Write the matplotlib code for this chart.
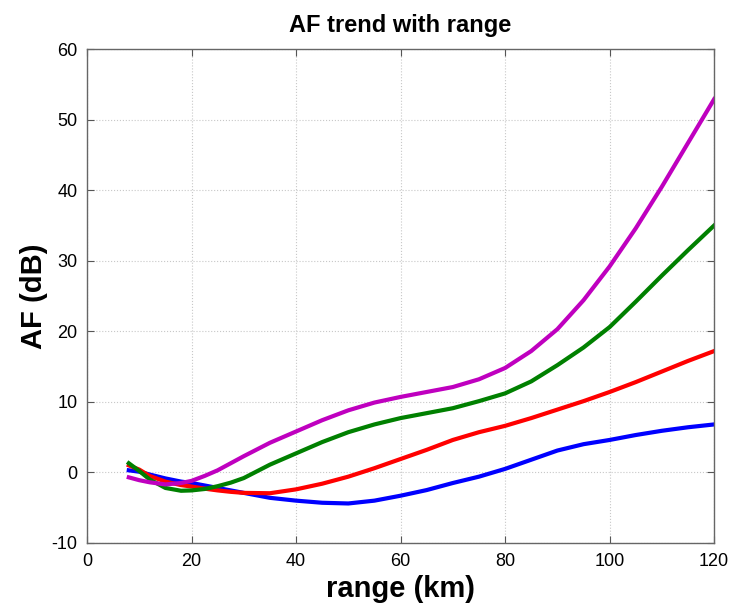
import matplotlib
matplotlib.use("Agg")
import matplotlib.pyplot as plt

plt.rcParams['font.family'] = ['Liberation Sans', 'DejaVu Sans']
plt.rcParams['axes.unicode_minus'] = False

# range samples (km)
range_km = [8, 10, 12, 15, 18, 20, 22.5, 25, 27.5, 30, 35, 40, 45, 50, 55, 60, 65,
            70, 75, 80, 85, 90, 95, 100, 105, 110, 115, 120]

# AF (dB) for each curve
af_blue = [0.3, 0.1, -0.3, -0.85, -1.3, -1.5, -1.85, -2.2, -2.55, -2.9, -3.6,
           -4.0, -4.3, -4.4, -4.0, -3.3, -2.5, -1.5, -0.6, 0.5, 1.8, 3.1,
           4.0, 4.6, 5.3, 5.9, 6.4, 6.8]
af_red = [1.0, 0.4, -0.5, -1.3, -1.8, -2.0, -2.3, -2.55, -2.75, -2.9, -2.95,
          -2.4, -1.6, -0.6, 0.6, 1.9, 3.2, 4.6, 5.7, 6.6, 7.7, 8.9, 10.1,
          11.4, 12.8, 14.3, 15.8, 17.2]
af_green = [1.3, 0.2, -1.0, -2.2, -2.6, -2.55, -2.35, -1.95, -1.45, -0.8, 1.1,
            2.7, 4.3, 5.7, 6.8, 7.7, 8.4, 9.1, 10.1, 11.2, 12.9, 15.2, 17.7,
            20.6, 24.2, 27.9, 31.5, 35.0]
af_magenta = [-0.7, -1.1, -1.4, -1.7, -1.5, -1.2, -0.5, 0.3, 1.3, 2.3, 4.2,
              5.8, 7.4, 8.8, 9.9, 10.7, 11.4, 12.1, 13.2, 14.8, 17.2, 20.3,
              24.4, 29.2, 34.6, 40.5, 46.7, 52.9]

xticks = [0, 20, 40, 60, 80, 100, 120]
yticks = [-10, 0, 10, 20, 30, 40, 50, 60]

fig = plt.figure(figsize=(7.31, 6.05), dpi=100)
ax = fig.add_axes([0.119, 0.1025, 0.858, 0.8165])

lw = 3.0
ax.plot(range_km, af_blue, color='#0000FF', lw=lw)
ax.plot(range_km, af_red, color='#FF0000', lw=lw)
ax.plot(range_km, af_green, color='#008000', lw=lw)
ax.plot(range_km, af_magenta, color='#BF00BF', lw=lw)

ax.set_xlim(0, 120)
ax.set_ylim(-10, 60)
ax.set_xticks(xticks)
ax.set_yticks(yticks)
ax.tick_params(direction='in', length=5, width=0.8, colors='#555555',
               labelcolor='black', labelsize=13, top=True, right=True,
               pad=7)
for s in ax.spines.values():
    s.set_color('#666666')
    s.set_linewidth(1.0)

ax.grid(True, linestyle=':', color='#C8C8C8', linewidth=0.8)
ax.set_axisbelow(True)

ax.set_title('AF trend with range', fontsize=17, fontweight='bold', pad=12)
ax.set_xlabel('range (km)', fontsize=21, fontweight='bold', labelpad=4)
ax.set_ylabel('AF (dB)', fontsize=21, fontweight='bold', labelpad=2)

fig.savefig('out.png', dpi=100)
